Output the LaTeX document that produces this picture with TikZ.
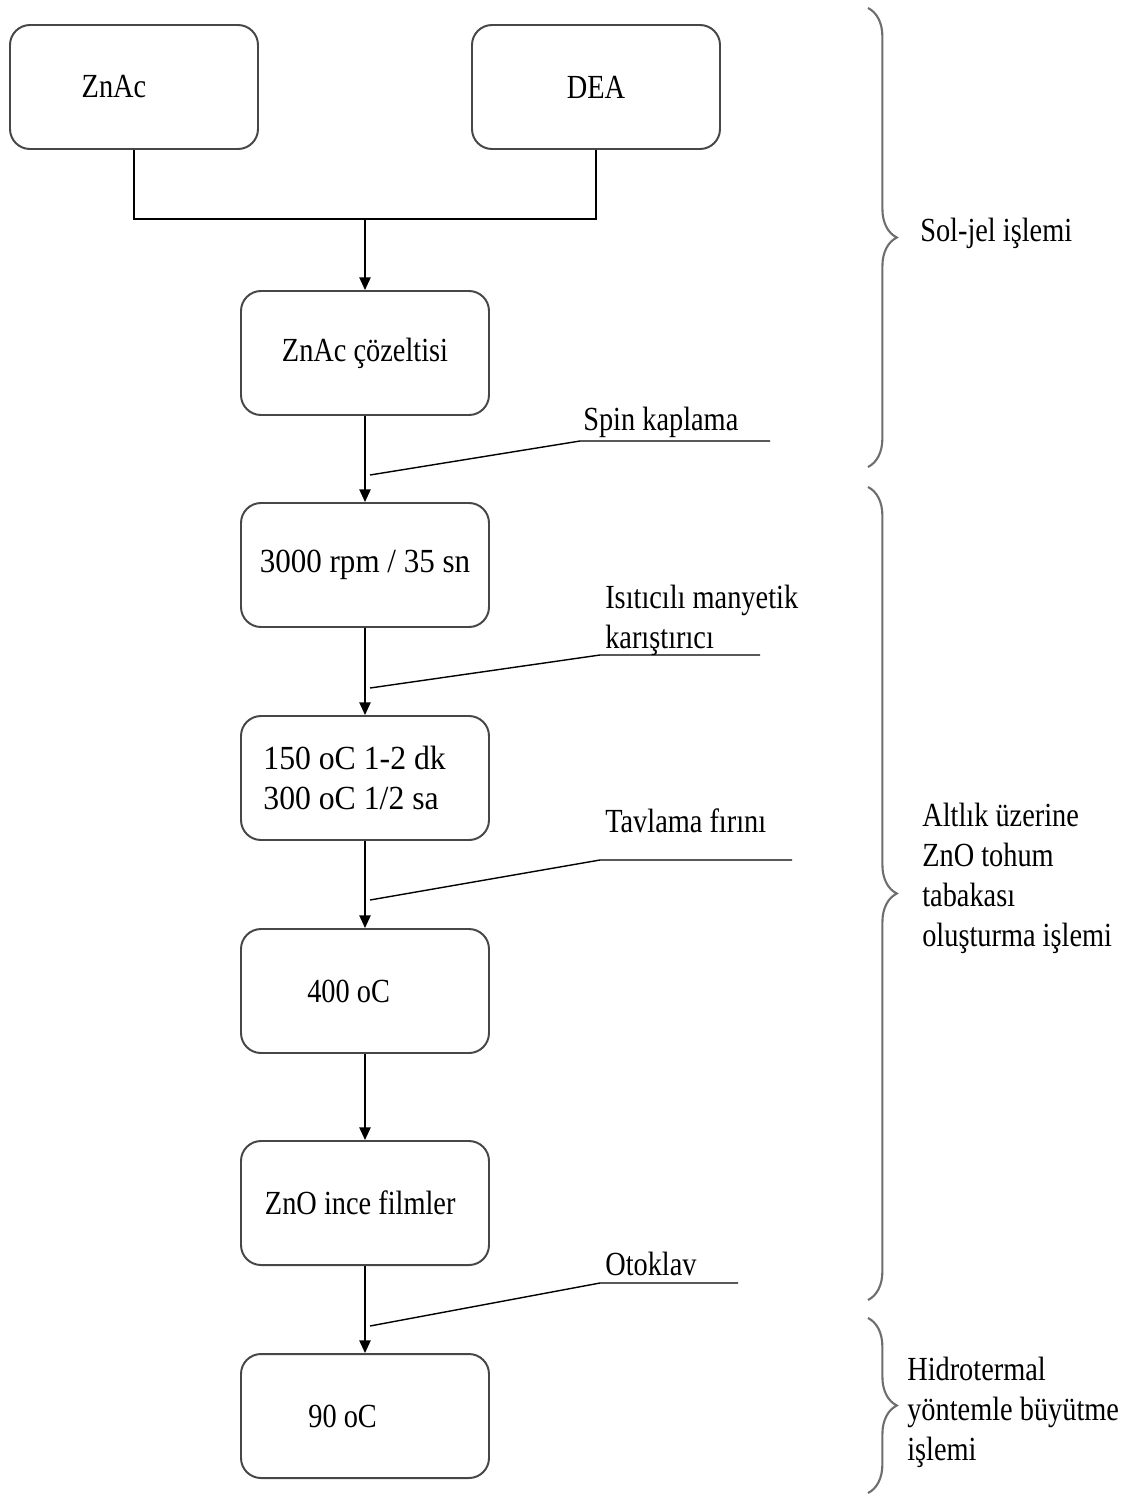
\documentclass[tikz,border=0pt]{standalone}
\usepackage{fontspec}
\setmainfont{Liberation Serif}[FakeStretch=0.84]
\usepackage{tikz}
\usetikzlibrary{arrows.meta, positioning, decorations.pathreplacing}
\definecolor{BoxLine}{HTML}{474747}
\definecolor{BraceLine}{HTML}{6E6E6E}

\begin{document}
\begin{tikzpicture}[
    stepbox/.style={
      rectangle, rounded corners=0.5cm, draw=BoxLine, line width=1.4pt,
      minimum width=6.2cm, minimum height=3.1cm, fill=white
    },
    txt/.style={font=\fontsize{24}{28.5}\selectfont, inner sep=0pt},
    flow/.style={line width=1.1pt, -{Triangle[length=9pt,width=8pt]}},
    leader/.style={line width=1pt},
    group/.style={decorate, decoration={brace, amplitude=0.72cm}, draw=BraceLine, line width=1.5pt}
  ]
    \useasboundingbox (0,0) rectangle (28.2,-37.4);

    % boxes
    \node[stepbox] (znac) at (3.35,-2.175) {};
    \node[txt, xshift=-5mm] at (znac.center) {ZnAc};
    \node[stepbox] (dea) at (14.9,-2.175) {};
    \node[txt] at (dea.center) {DEA};
    \node[stepbox] (sol) at (9.125,-8.825) {};
    \node[txt] at (sol.center) {ZnAc çözeltisi};
    \node[stepbox] (spin) at (9.125,-14.125) {};
    \node[txt, font=\fontsize{24}{28.5}\selectfont\addfontfeature{FakeStretch=0.92}] at (spin.center) {3000 rpm / 35 sn};
    \node[stepbox] (heat) at (9.125,-19.45) {};
    \node[txt, align=left, xshift=-2.6mm, font=\fontsize{24}{28.5}\selectfont\addfontfeature{FakeStretch=0.94}] at (heat.center) {150 oC 1-2 dk\\300 oC 1/2 sa};
    \node[stepbox] (anneal) at (9.125,-24.775) {};
    \node[txt, xshift=-4.1mm] at (anneal.center) {400 oC};
    \node[stepbox] (film) at (9.125,-30.075) {};
    \node[txt, xshift=-1.2mm] at (film.center) {ZnO ince filmler};
    \node[stepbox] (auto) at (9.125,-35.4) {};
    \node[txt, xshift=-5.6mm] at (auto.center) {90 oC};

    % flow
    \coordinate (join) at (9.125,-5.475);
    \draw[line width=1.1pt] (znac.south) |- (join) -| (dea.south);
    \draw[flow] (join) -- (sol.north);
    \draw[flow] (sol) -- (spin);
    \draw[flow] (spin) -- (heat);
    \draw[flow] (heat) -- (anneal);
    \draw[flow] (anneal) -- (film);
    \draw[flow] (film) -- (auto);

    % equipment labels
    \coordinate (p1) at (9.25,-11.875);
    \coordinate (q1) at (14.5,-11.025);
    \coordinate (r1) at (19.25,-11.025);
    \draw[leader] (p1) -- (q1) -- (r1);
    \node[txt, anchor=base west] (lbspin) at (14.575,-10.75) {Spin kaplama};

    \coordinate (p2) at (9.25,-17.2);
    \coordinate (q2) at (15.0,-16.375);
    \coordinate (r2) at (19.0,-16.375);
    \draw[leader] (p2) -- (q2) -- (r2);
    \node[txt, anchor=base west] (lbmix) at (15.125,-15.2) {Isıtıcılı manyetik};
    \node[txt, anchor=base west] (lbmix2) at (15.125,-16.2) {karıştırıcı};

    \coordinate (p3) at (9.25,-22.5);
    \coordinate (q3) at (15.0,-21.5);
    \coordinate (r3) at (19.8,-21.5);
    \draw[leader] (p3) -- (q3) -- (r3);
    \node[txt, anchor=base west] (lbfurn) at (15.125,-20.8) {Tavlama fırını};

    \coordinate (p4) at (9.25,-33.15);
    \coordinate (q4) at (15.0,-32.075);
    \coordinate (r4) at (18.45,-32.075);
    \draw[leader] (p4) -- (q4) -- (r4);
    \node[txt, anchor=base west] (lbauto) at (15.125,-31.875) {Otoklav};

    % process groups
    \draw[group] (21.7,-0.2) -- (21.7,-11.675);
    \node[txt, anchor=west] (gsol) at (23.0,-5.825) {Sol-jel işlemi};
    \draw[group] (21.7,-12.175) -- (21.7,-32.5);
    \node[txt, anchor=west, align=left] (gseed) at (23.05,-21.95) {Altlık üzerine\\ZnO tohum\\tabakası\\oluşturma işlemi};
    \draw[group] (21.7,-32.95) -- (21.7,-37.325);
    \node[txt, anchor=west, align=left] (ghyd) at (22.675,-35.3) {Hidrotermal\\yöntemle büyütme\\işlemi};
  \end{tikzpicture}
\end{document}
